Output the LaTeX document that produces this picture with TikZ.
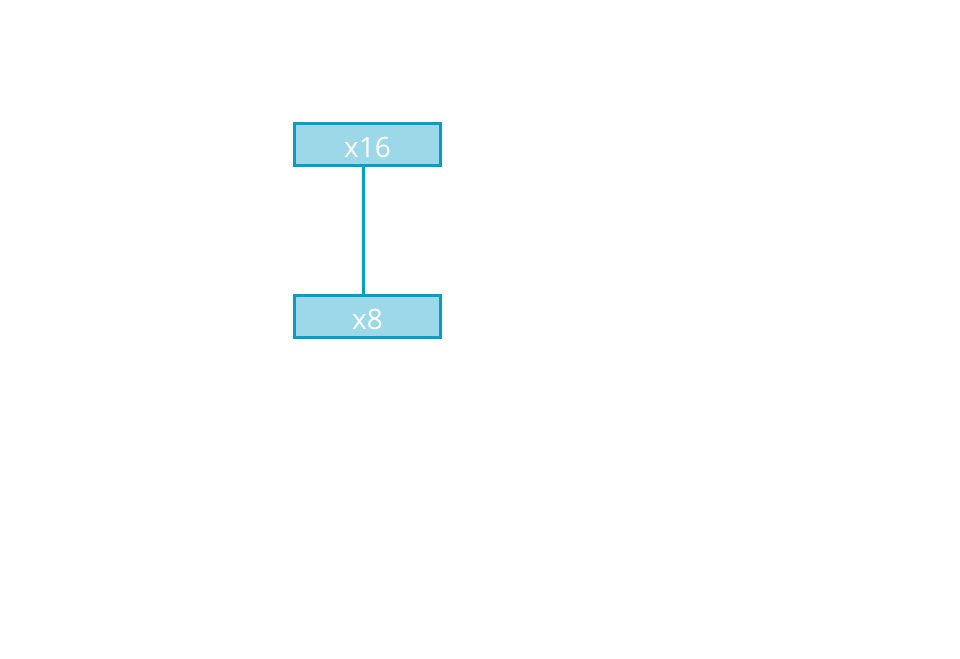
\documentclass[tikz,border=0pt]{standalone}
\usepackage{fontspec}
\setmainfont{Open Sans}
\definecolor{boxfill}{HTML}{9DD8E9}
\definecolor{boxline}{HTML}{00A0C6}
\tikzset{
	blockbox/.style={draw=boxline, fill=boxfill, line width=2.2pt, minimum width=146pt, minimum height=42pt, inner sep=0pt, text=white, text height=25pt, text depth=0pt, font=\fontsize{28}{32}\selectfont},
	link/.style={draw=boxline, line width=3pt}
}
\begin{document}
\begin{tikzpicture}[x=1pt,y=-1pt]
		\useasboundingbox (0,0) rectangle (960,658);
		\node[blockbox] (x16) at (367.5,144.5) {x16};
		\node[blockbox] (x8) at (367.5,316.5) {x8};
			\draw[link] ([xshift=-4.5pt]x16.south) -- ([xshift=-4.5pt]x8.north);
	\end{tikzpicture}
\end{document}
